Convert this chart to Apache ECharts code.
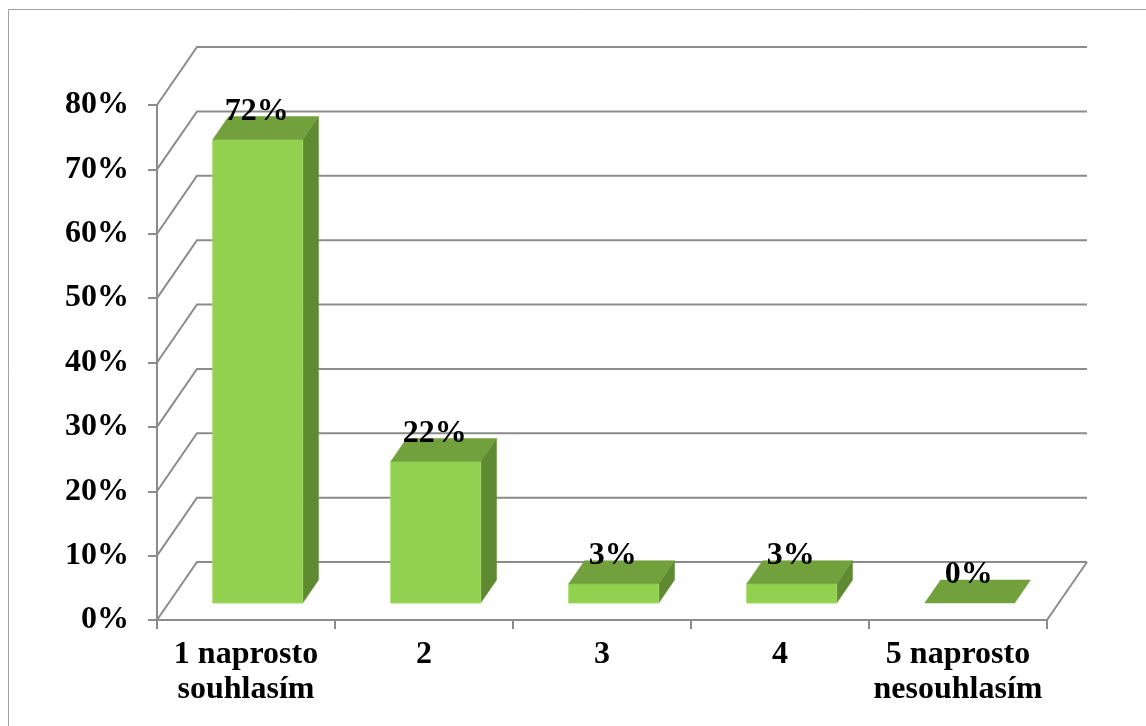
<!DOCTYPE html>
<html>
<head>
<meta charset="utf-8">
<script src="https://cdn.jsdelivr.net/npm/echarts@6/dist/echarts.min.js"></script>
<style>
html,body{margin:0;padding:0;background:#fff;}
#chart{width:1146px;height:726px;}
</style>
</head>
<body>
<div id="chart"></div>
<script>
var categories = ['1 naprosto\nsouhlasím', '2', '3', '4', '5 naprosto\nnesouhlasím'];
var values = [72, 22, 3, 3, 0];
var yTicks = [0, 10, 20, 30, 40, 50, 60, 70, 80];

var DX = 40, DY = -58;          // depth projection of the back wall
var D0 = 17 / 58, D1 = 40 / 58; // bar depth range (fraction of floor depth)
var GRID = '#8c8c8c';
var FONT = 'Liberation Serif';
var FS = 32;

var chart = echarts.init(document.getElementById('chart'));

function wallItem(params, api) {
  var cs = params.coordSys;
  var v = api.value(0);
  var y = api.coord([0, v])[1];
  var L = cs.x, R = cs.x + cs.width;
  var children = [{
    type: 'polyline',
    shape: { points: [[L, y], [L + DX, y + DY], [R + DX, y + DY]] },
    style: { stroke: GRID, lineWidth: 2, fill: null }
  }];
  if (v === 0) {
    children.push({
      type: 'line',
      shape: { x1: R, y1: y, x2: R + DX, y2: y + DY },
      style: { stroke: GRID, lineWidth: 2 }
    });
  }
  return { type: 'group', children: children };
}

function barItem(params, api) {
  var i = api.value(0), v = api.value(1);
  var c = api.coord([i, v]);
  var base = api.coord([i, 0])[1];
  var bw = api.size([1, 0])[0] * 0.505;
  var xl = c[0] - bw / 2, xr = c[0] + bw / 2;
  var yt = c[1];
  var dx0 = DX * D0, dy0 = DY * D0, dx1 = DX * D1, dy1 = DY * D1;
  var children = [];
  if (base - yt > 0.5) {
    children.push({
      type: 'polygon',
      shape: { points: [[xr + dx0, yt + dy0], [xr + dx1, yt + dy1], [xr + dx1, base + dy1], [xr + dx0, base + dy0]] },
      style: { fill: '#5f8a32', stroke: '#5f8a32', lineWidth: 0.5 }
    });
    children.push({
      type: 'rect',
      shape: { x: xl + dx0, y: yt + dy0, width: bw, height: base - yt },
      style: { fill: '#92d050', stroke: '#9fd666', lineWidth: 1 }
    });
  }
  children.push({
    type: 'polygon',
    shape: { points: [[xl + dx0, yt + dy0], [xr + dx0, yt + dy0], [xr + dx1, yt + dy1], [xl + dx1, yt + dy1]] },
    style: { fill: '#71a03d', stroke: '#71a03d', lineWidth: 0.5 }
  });
  children.push({
    type: 'text',
    x: c[0] + dx0 - 1,
    y: yt + dy0 - 12,
    style: {
      text: v + '%',
      textAlign: 'center',
      textVerticalAlign: 'bottom',
      fontFamily: FONT,
      fontWeight: 'bold',
      fontSize: FS,
      fill: '#000'
    }
  });
  return { type: 'group', children: children };
}

chart.setOption({
  animation: false,
  backgroundColor: '#fff',
  graphic: [{
    type: 'polyline',
    shape: { points: [[8.5, 740], [8.5, 9.5], [1160, 9.5]] },
    style: { stroke: '#a0a0a0', lineWidth: 1, fill: null },
    silent: true
  }],
  grid: { left: 157, right: 99, top: 105, bottom: 106, containLabel: false },
  xAxis: {
    type: 'category',
    data: categories,
    boundaryGap: true,
    axisLine: { show: true, lineStyle: { color: GRID, width: 2 } },
    axisTick: { show: true, length: 9, alignWithLabel: false, lineStyle: { color: GRID, width: 2 } },
    axisLabel: {
      interval: 0,
      margin: 17,
      fontFamily: FONT,
      fontWeight: 'bold',
      fontSize: FS,
      lineHeight: 35,
      color: '#000'
    },
    splitLine: { show: false }
  },
  yAxis: {
    type: 'value',
    min: 0,
    max: 80,
    interval: 10,
    axisLine: { show: true, lineStyle: { color: GRID, width: 2 } },
    axisTick: { show: true, length: 9, lineStyle: { color: GRID, width: 2 } },
    axisLabel: {
      formatter: '{value}%',
      margin: 28,
      fontFamily: FONT,
      fontWeight: 'bold',
      fontSize: FS,
      color: '#000'
    },
    splitLine: { show: false }
  },
  series: [{
    type: 'custom',
    renderItem: wallItem,
    data: yTicks.map(function (t) { return [t]; }),
    encode: { y: 0 },
    z: 1,
    silent: true,
    clip: false
  }, {
    type: 'custom',
    renderItem: barItem,
    data: values.map(function (v, i) { return [i, v]; }),
    encode: { x: 0, y: 1 },
    z: 2,
    silent: true,
    clip: false
  }]
});
</script>
</body>
</html>
